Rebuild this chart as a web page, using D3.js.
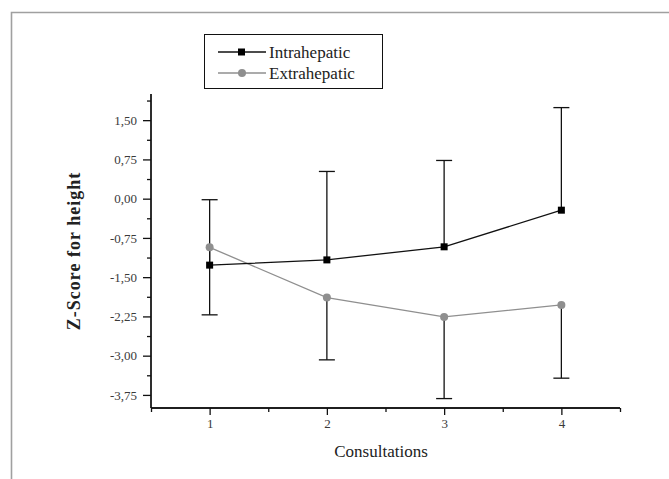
<!DOCTYPE html>
<html>
<head>
<meta charset="utf-8">
<script src="https://cdn.jsdelivr.net/npm/d3@7"></script>
<style>
  body { margin: 0; background: #fff; }
  svg { display: block; }
  svg text { font-family: 'Liberation Serif', 'Times New Roman', serif !important; }
</style>
</head>
<body>
<svg width="669" height="479"></svg>
<script>
// DATA
var consultations = [1, 2, 3, 4];
var intraMean = [-1.27, -1.17, -0.92, -0.22];
var intraUpper = [-0.02, 0.52, 0.73, 1.74];
var extraMean = [-0.93, -1.89, -2.26, -2.03];
var extraLower = [-2.22, -3.08, -3.82, -3.43];
var yTicks = [-3.75, -3.0, -2.25, -1.5, -0.75, 0.0, 0.75, 1.5];
var yMinor = [-3.375, -2.625, -1.875, -1.125, -0.375, 0.375, 1.125, 1.875];
var xTicks = [1, 2, 3, 4];
var xMinor = [0.5, 1.5, 2.5, 3.5, 4.5];
var seriesNames = ["Intrahepatic", "Extrahepatic"];

// SETUP
var svg = d3.select("svg");
var grey = "#8f8f8f";

var x = d3.scaleLinear().domain([0.5, 4.5]).range([151, 620]);
var y = d3.scaleLinear().domain([-4, 2]).range([408, 94]);

var locale = d3.formatLocale({ decimal: ",", thousands: ".", grouping: [3], currency: ["", ""], minus: "-" });
var fmt = locale.format(".2f");

// outer frame
svg.append("path")
  .attr("d", "M11.5,480 L11.5,12.5 L670,12.5")
  .attr("fill", "none")
  .attr("stroke", "#a0a0a0")
  .attr("stroke-width", 1.6);

// y axis
var gy = svg.append("g").attr("transform", "translate(" + x.range()[0] + ",0)");
gy.call(d3.axisLeft(y).tickValues(yTicks).tickSize(8).tickPadding(6).tickFormat(fmt));
gy.append("g").call(d3.axisLeft(y).tickValues(yMinor).tickSize(4).tickFormat(""));
gy.selectAll(".domain").attr("d", "M0," + y(2) + "V" + y(-4));

// x axis
var gx = svg.append("g").attr("transform", "translate(0," + y.range()[0] + ")");
gx.call(d3.axisBottom(x).tickValues(xTicks).tickSize(7).tickPadding(4).tickFormat(d3.format("d")));
gx.append("g").call(d3.axisBottom(x).tickValues(xMinor).tickSize(4).tickFormat(""));
gx.selectAll(".domain").attr("d", "M" + x(0.5) + ",0H" + x(4.5));

svg.selectAll(".domain, .tick line").attr("stroke", "#111").attr("stroke-width", 1.3);
svg.selectAll(".tick text")
  .attr("font-size", 13)
  .attr("fill", "#3a3a3a");

// axis titles
svg.append("text")
  .attr("transform", "translate(80," + ((y(2) + y(-4)) / 2) + ") rotate(-90)")
  .attr("text-anchor", "middle")
  .attr("font-size", 18)
  .attr("font-weight", "bold")
  .attr("letter-spacing", 1)
  .attr("fill", "#222")
  .text("Z-Score for height");

svg.append("text")
  .attr("x", 381)
  .attr("y", 457)
  .attr("text-anchor", "middle")
  .attr("font-size", 17)
  .attr("fill", "#222")
  .text("Consultations");

// error bars: intrahepatic upward, extrahepatic downward
var capW = 8;
function errBar(xs, from, to) {
  var g = svg.append("g").attr("stroke", "#111").attr("stroke-width", 1.3);
  g.selectAll("line.v").data(xs).enter().append("line")
    .attr("x1", function (d) { return x(d); })
    .attr("x2", function (d) { return x(d); })
    .attr("y1", function (d, i) { return y(from[i]); })
    .attr("y2", function (d, i) { return y(to[i]); });
  g.selectAll("line.c").data(xs).enter().append("line")
    .attr("x1", function (d) { return x(d) - capW; })
    .attr("x2", function (d) { return x(d) + capW; })
    .attr("y1", function (d, i) { return y(to[i]); })
    .attr("y2", function (d, i) { return y(to[i]); });
}
errBar(consultations, intraMean, intraUpper);
errBar(consultations, extraMean, extraLower);

var line = d3.line()
  .x(function (d) { return x(d[0]); })
  .y(function (d) { return y(d[1]); });

// extrahepatic series
svg.append("path")
  .datum(d3.zip(consultations, extraMean))
  .attr("fill", "none")
  .attr("stroke", grey)
  .attr("stroke-width", 1.3)
  .attr("d", line);
svg.selectAll(".dotE")
  .data(d3.zip(consultations, extraMean))
  .enter().append("circle")
  .attr("cx", function (d) { return x(d[0]); })
  .attr("cy", function (d) { return y(d[1]); })
  .attr("r", 4)
  .attr("fill", grey);

// intrahepatic series
svg.append("path")
  .datum(d3.zip(consultations, intraMean))
  .attr("fill", "none")
  .attr("stroke", "#111")
  .attr("stroke-width", 1.3)
  .attr("d", line);
svg.selectAll(".dotI")
  .data(d3.zip(consultations, intraMean))
  .enter().append("rect")
  .attr("x", function (d) { return x(d[0]) - 3.5; })
  .attr("y", function (d) { return y(d[1]) - 3.5; })
  .attr("width", 7)
  .attr("height", 7)
  .attr("fill", "#000");

// legend
var leg = svg.append("g");
leg.append("rect")
  .attr("x", 204.5).attr("y", 34.5)
  .attr("width", 178).attr("height", 54)
  .attr("fill", "#fff")
  .attr("stroke", "#111")
  .attr("stroke-width", 1);

var items = leg.selectAll(".item")
  .data(seriesNames)
  .enter().append("g")
  .attr("transform", function (d, i) { return "translate(0," + (52 + i * 21) + ")"; });
items.append("line")
  .attr("x1", 218).attr("x2", 266)
  .attr("stroke", function (d, i) { return i === 0 ? "#111" : grey; })
  .attr("stroke-width", 1.3);
items.filter(function (d, i) { return i === 0; }).append("rect")
  .attr("x", 238).attr("y", -3.5).attr("width", 7).attr("height", 7).attr("fill", "#000");
items.filter(function (d, i) { return i === 1; }).append("circle")
  .attr("cx", 242).attr("cy", 0).attr("r", 4).attr("fill", grey);
items.append("text")
  .attr("x", 269)
  .attr("dy", "0.35em")
  .attr("font-size", 17)
  .attr("fill", "#222")
  .text(function (d) { return d; });
</script>
</body>
</html>
